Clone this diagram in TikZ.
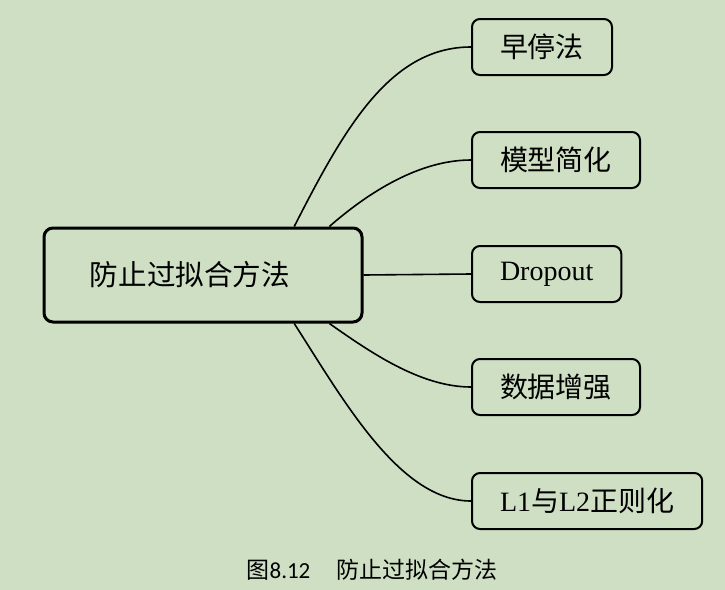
\documentclass[tikz,border=0pt]{standalone}
\usepackage{fontspec}
\setmainfont{Liberation Serif}
\newfontfamily\cjk{Noto Sans CJK SC}
\newfontfamily\capfont{Carlito}
\usepackage{tikz}
\definecolor{paper}{RGB}{207,223,196}

\begin{document}
\begin{tikzpicture}[x=0.5pt,y=-0.5pt,
  leaf/.style={draw,rounded corners=4pt,line width=1pt,inner xsep=14pt,
    minimum height=28pt,anchor=west,font=\fontsize{14}{16}\selectfont},
  link/.style={line width=0.8pt}]
  % ---------------- background ----------------
  \fill[paper] (0,0) rectangle (725,590);
  \useasboundingbox (0,0) rectangle (725,590);
  % ---------------- root ----------------
  \node[draw,rounded corners=4.5pt,line width=1.5pt,inner xsep=23pt,
    text width=113pt,align=left,minimum height=47pt,
    font=\fontsize{14.3}{16}\selectfont] (main) at (203,275) {\cjk 防止过拟合方法};
  % ---------------- leaves ----------------
  \node[leaf] (early) at (471,47) {\cjk 早停法};
  \node[leaf] (simple) at (471,160) {\cjk 模型简化};
  \node[leaf] (drop) at (471,274) {Dropout};
  \node[leaf] (aug) at (471,387) {\cjk 数据增强};
  \node[leaf] (reg) at (471,501) {L1{\cjk 与}L2{\cjk 正则化}};
  % ---------------- links ----------------
  \draw[link] (main.28) .. controls +(50,-98) and +(-81,0) .. (early.west);
  \draw[link] (main.21) .. controls +(40,-35) and +(-51,0) .. (simple.west);
  \draw[link] (main.east) -- (drop.west);
  \draw[link] (main.-21) .. controls +(40,28) and +(-51,0) .. (aug.west);
  \draw[link] (main.-28) .. controls +(50,78) and +(-71,0) .. (reg.west);
  % ---------------- caption ----------------
  \node[font=\fontsize{11.5}{13}\selectfont] (cap) at (372,570)
    {{\cjk 图}{\capfont 8.12}\hspace{13pt}{\cjk 防止过拟合方法}};
\end{tikzpicture}
\end{document}
